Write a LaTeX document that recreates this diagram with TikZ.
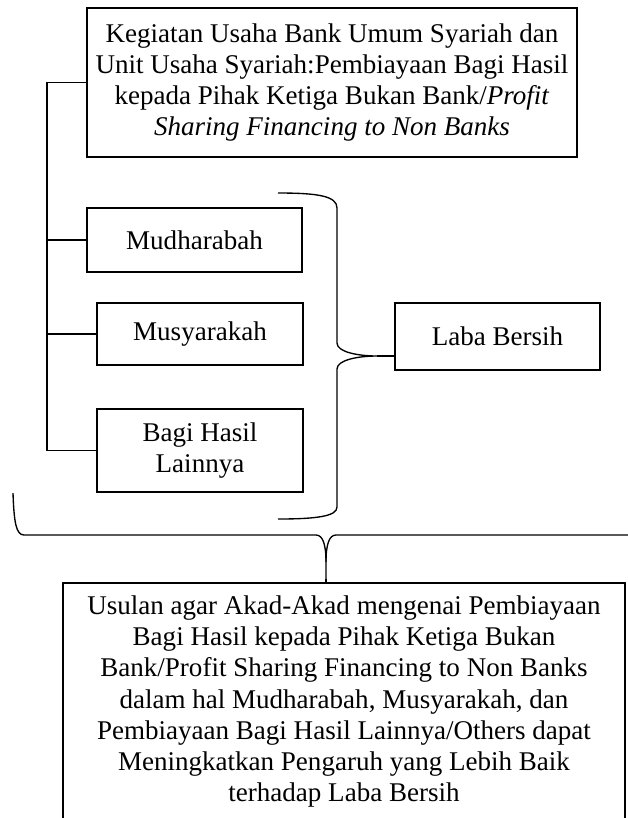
\documentclass[tikz,border=0pt]{standalone}
\usepackage{fontspec}
\setmainfont{Liberation Serif}
\def\upx{0.444pt}

\begin{document}
\begin{tikzpicture}[x=\upx, y=-\upx, line width=0.6pt,
  kotak/.style={draw, align=center, inner sep=0pt,
                font=\fontsize{12}{13.8}\selectfont}]

% Batas gambar
\useasboundingbox (0,0) rectangle (628,818);
\clip (0,0) rectangle (628,818);

% Kotak utama
\node[kotak, minimum width=490*\upx, minimum height=149*\upx] (atas) at (332,82.5)
    {Kegiatan Usaha Bank Umum Syariah dan\\
     Unit Usaha Syariah:Pembiayaan Bagi Hasil\\
     kepada Pihak Ketiga Bukan Bank/\textit{Profit}\\
     \textit{Sharing Financing to Non Banks}};

% Jenis akad
\node[kotak, minimum width=215*\upx, minimum height=64*\upx] (mudh) at (194.5,240) {Mudharabah};
\node[kotak, minimum width=206*\upx, minimum height=62*\upx] (musy) at (200,334) {Musyarakah};
\node[kotak, minimum width=206*\upx, minimum height=83*\upx] (bagi) at (200,450.5)
    {Bagi Hasil\\ Lainnya};

% Batang kiri
\coordinate (batang) at (47,82.5);
\draw (atas.west) -- (batang) |- (bagi.west);
\foreach \n in {mudh,musy} {
    \draw (batang |- \n.west) -- (\n.west);
}

% Laba bersih dan kurung kanan
\node[kotak, minimum width=205*\upx, minimum height=67*\upx] (laba) at (497.5,336.5) {Laba Bersih};
\coordinate (ujungA) at (377,356);
\draw (278,193) .. controls (318,193) and (337,196) .. (337,208) -- (337,343)
    .. controls (337,352) and (358,356) .. (ujungA)
    .. controls (358,356) and (337,360) .. (337,369) -- (337,507)
    .. controls (337,516) and (318,519) .. (278,519);
\draw (ujungA) -- (laba.west |- ujungA);

% Usulan dan kurung bawah
\node[kotak, minimum width=562*\upx, minimum height=237*\upx] (usul) at (344,701.5)
    {Usulan agar Akad-Akad mengenai Pembiayaan\\
     Bagi Hasil kepada Pihak Ketiga Bukan\\
     Bank/Profit Sharing Financing to Non Banks\\
     dalam hal Mudharabah, Musyarakah, dan\\
     Pembiayaan Bagi Hasil Lainnya/Others dapat\\
     Meningkatkan Pengaruh yang Lebih Baik\\
     terhadap Laba Bersih};
\coordinate (ujungB) at (326,579);
\draw (13,493) .. controls (14,522) and (16,535) .. (24,535) -- (316,535)
    .. controls (323,535) and (326,545) .. (326,562) -- (ujungB);
\draw (326,562) .. controls (326,545) and (329,535) .. (336,535) -- (640,535);
\draw (ujungB) -- (usul.north -| ujungB);

\end{tikzpicture}
\end{document}
